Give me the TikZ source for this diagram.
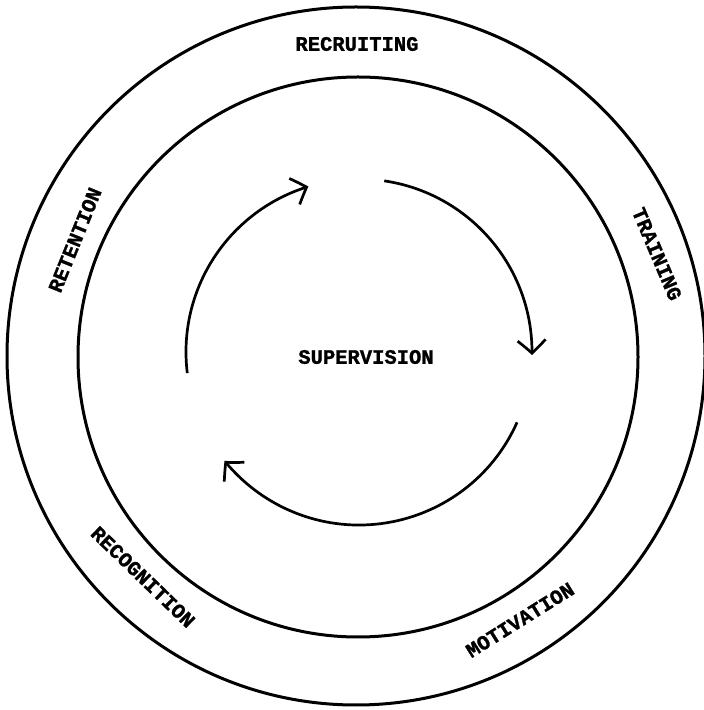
\documentclass[tikz,border=0pt]{standalone}
\usepackage{fontspec}
\newfontfamily\twfont[BoldFeatures={FakeBold=1.2}]{Liberation Mono}
\usetikzlibrary{arrows.meta,bending}
\begin{document}
\begin{tikzpicture}[x=1pt,y=1pt,
  ring/.style={line width=3pt},
  cyc/.style={line width=2.7pt,-{Straight Barb[length=13pt,width=28pt,line width=2.7pt,bend]}},
  lbl/.style={font=\twfont\bfseries\fontsize{20.5}{21}\selectfont,inner sep=0pt}]
\useasboundingbox (0,0) rectangle (704,710);
\coordinate (O) at (356,354);
\coordinate (I) at (358,353);
\coordinate (C) at (359,358);
\draw[ring] (O) circle[radius=349];
\draw[ring] (I) circle[radius=280];
% cycle arrows
\draw[cyc] ([shift={(187:173)}]C) arc[start angle=187,end angle=107,radius=173];
\draw[cyc] ([shift={(81.6:173)}]C) arc[start angle=81.6,end angle=-1,radius=173];
\draw[cyc] ([shift={(-24:173)}]C) arc[start angle=-24,end angle=-141,radius=173];
% labels
\node[lbl] (sup) at (366,353) {SUPERVISION};
\node[lbl] (rec) at (357,666) {RECRUITING};
\node[lbl,rotate=-67] (tra) at (657,456) {TRAINING};
\node[lbl,rotate=68] (ret) at (75,470) {RETENTION};
\node[lbl,rotate=-44] (rcg) at (143,133) {RECOGNITION};
\node[lbl,rotate=32] (mot) at (520,90) {MOTIVATION};
\end{tikzpicture}
\end{document}
